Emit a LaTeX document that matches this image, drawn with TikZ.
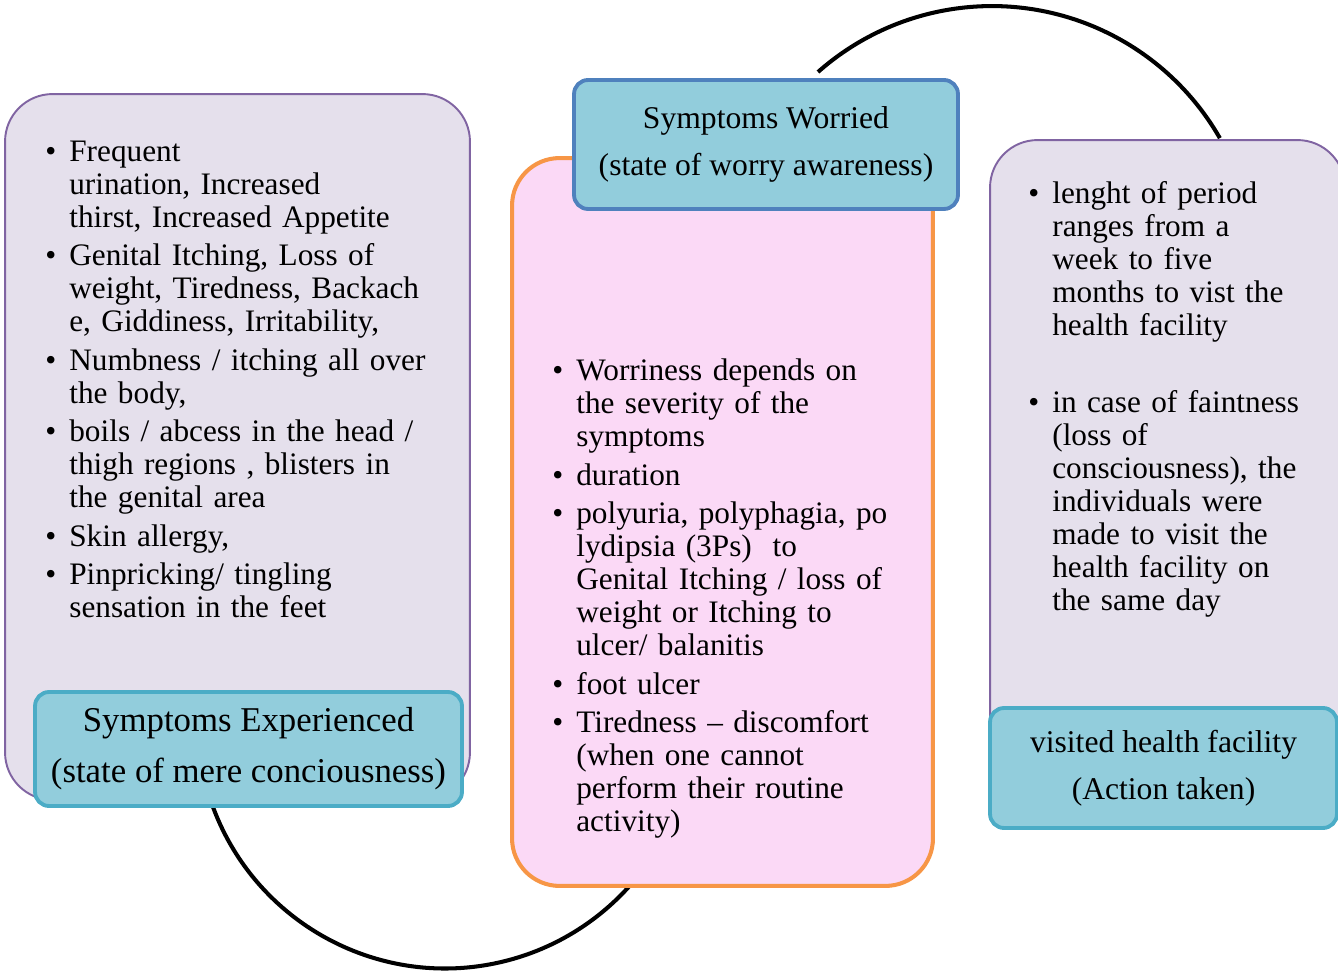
\documentclass[tikz,border=0pt]{standalone}
\usepackage{fontspec}
\setmainfont{Liberation Serif}
\usepackage{enumitem}
\usetikzlibrary{positioning}

\definecolor{lilac}{HTML}{E5E0EC}
\definecolor{lilacline}{HTML}{8064A2}
\definecolor{rosefill}{HTML}{FBD9F6}
\definecolor{orangeline}{HTML}{F79646}
\definecolor{aquafill}{HTML}{92CDDC}
\definecolor{aqualine}{HTML}{4BACC6}
\definecolor{blueline}{HTML}{4F81BD}

\newlist{symlist}{itemize}{1}
\setlist[symlist]{label=\textbullet, labelindent=0pt, labelwidth=0.18cm,
  labelsep=0.26cm, leftmargin=!, align=right, topsep=0pt, partopsep=0pt,
  parsep=0pt, itemsep=3.1pt}

\begin{document}
\begin{tikzpicture}[x=0.02cm, y=-0.02cm,
    panel/.style={draw=lilacline, fill=lilac, line width=1.1pt, rounded corners=0.95cm},
    head/.style={draw=aqualine, fill=aquafill, line width=2.2pt, rounded corners=0.28cm,
                 align=center, font=\fontsize{18}{26.5}\selectfont},
    bullets/.style={anchor=base west, inner sep=0pt, text width=8.4cm,
                    font=\fontsize{17.8}{18.8}\selectfont},
    ring/.style={line width=2.3pt}
  ]
  \path[use as bounding box] (0,0) rectangle (1338,972);
  \clip (0,0) rectangle (1338,972);

  % circular links behind the boxes
  \coordinate (lowstart) at (206,785);
  \coordinate (highstart) at (818,72);
  \draw[ring] (lowstart) arc[start angle=165, end angle=38, radius=247.5];
  \draw[ring] (highstart) arc[start angle=-131.5, end angle=-29.8, radius=262.6];

  % Symptoms experienced
  \node[panel, minimum width=9.3cm, minimum height=14.12cm] (leftpanel) at (237.5,447) {};
  \node[head, font=\fontsize{19.8}{28.9}\selectfont, minimum width=8.54cm, minimum height=2.28cm]
    (lefthead) at (248.5,749) {Symptoms Experienced\\(state of mere conciousness)};

  % Symptoms worried
  \node[panel, draw=orangeline, fill=rosefill, line width=2.3pt,
        minimum width=8.42cm, minimum height=14.56cm] (midpanel) at (722.5,522) {};
  \node[head, draw=blueline, minimum width=7.68cm, minimum height=2.58cm]
    (midhead) at (766,144.5) {Symptoms Worried\\(state of worry awareness)};

  % Action taken
  \node[panel, minimum width=7.1cm, minimum height=13.4cm] (rightpanel) at (1167.5,475) {};
  \node[head, minimum width=6.94cm, minimum height=2.4cm]
    (righthead) at (1163.5,768) {visited health facility\\(Action taken)};

  % bullet texts
  \node[bullets] (lefttext) at (47,128) {\begin{symlist}
    \item Frequent\\urination, Increased\\thirst, Increased Appetite
    \item Genital Itching, Loss of\\weight, Tiredness, Backach\\e, Giddiness, Irritability,
    \item Numbness / itching all over\\the body,
    \item boils / abcess in the head /\\thigh regions , blisters in\\the genital area
    \item Skin allergy,
    \item Pinpricking/ tingling\\sensation in the feet
  \end{symlist}};
  \node[bullets, text width=8cm] (midtext) at (554,347.5) {\begin{symlist}
    \item Worriness depends on\\the severity of the\\symptoms
    \item duration
    \item polyuria, polyphagia, po\\lydipsia (3Ps)~ to\\Genital Itching / loss of\\weight or Itching to\\ulcer/ balanitis
    \item foot ulcer
    \item Tiredness -- discomfort\\(when one cannot\\perform their routine\\activity)
  \end{symlist}};
  \node[bullets, text width=6cm] (righttext) at (1030,170.5) {\begin{symlist}
    \item lenght of period\\ranges from a\\week to five\\months to vist the\\health facility
    \item[] \mbox{}
    \item in case of faintness\\(loss of\\consciousness), the\\individuals were\\made to visit the\\health facility on\\the same day
  \end{symlist}};
\end{tikzpicture}
\end{document}
